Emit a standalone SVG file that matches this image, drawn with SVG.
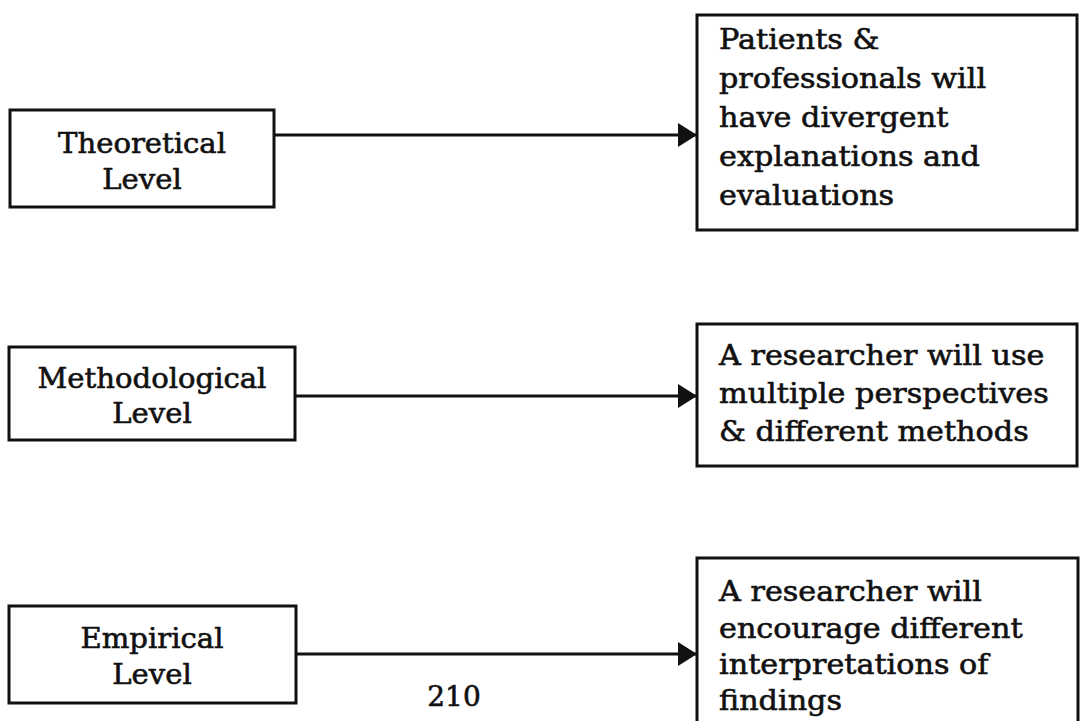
<svg xmlns="http://www.w3.org/2000/svg" width="1084" height="721" viewBox="0 0 1084 721">
<style>
.box{fill:#fff;stroke:#111;stroke-width:3}
.t{font-family:"DejaVu Serif","Liberation Serif",serif;font-size:28px;fill:#111;stroke:#111;stroke-width:0.6}
.c{text-anchor:middle}
.conn{stroke:#111;stroke-width:3;fill:none}
</style>
<defs>
<marker id="ah" markerUnits="userSpaceOnUse" markerWidth="20" markerHeight="24" refX="19" refY="12" orient="auto">
<path d="M0,0 L19,12 L0,24 z" fill="#111"/>
</marker>
</defs>
<rect width="1084" height="721" fill="#fff"/>
<g id="connectors">
<line class="conn" x1="274" y1="135" x2="697" y2="135" marker-end="url(#ah)"/>
<line class="conn" x1="295" y1="396" x2="697" y2="396" marker-end="url(#ah)"/>
<line class="conn" x1="296" y1="654" x2="697" y2="654" marker-end="url(#ah)"/>
</g>
<g id="theoretical">
<rect class="box" x="10" y="110" width="264" height="97"/>
<text class="t c" transform="translate(142,153) scale(1.04,1)">Theoretical</text>
<text class="t c" transform="translate(142,189) scale(1.04,1)">Level</text>
</g>
<g id="methodological">
<rect class="box" x="9" y="347" width="286" height="93"/>
<text class="t c" transform="translate(152,388) scale(1.04,1)">Methodological</text>
<text class="t c" transform="translate(152,423) scale(1.04,1)">Level</text>
</g>
<g id="empirical">
<rect class="box" x="9" y="606" width="287" height="97"/>
<text class="t c" transform="translate(152,648) scale(1.04,1)">Empirical</text>
<text class="t c" transform="translate(152,684) scale(1.04,1)">Level</text>
</g>
<g id="outcome-theoretical">
<rect class="box" x="697" y="15" width="380" height="215"/>
<text class="t" transform="translate(719,49) scale(1.08,1)">Patients &amp;</text>
<text class="t" transform="translate(719,88) scale(1.08,1)">professionals will</text>
<text class="t" transform="translate(719,127) scale(1.08,1)">have divergent</text>
<text class="t" transform="translate(719,166) scale(1.08,1)">explanations and</text>
<text class="t" transform="translate(719,205) scale(1.08,1)">evaluations</text>
</g>
<g id="outcome-methodological">
<rect class="box" x="697" y="324" width="380" height="142"/>
<text class="t" transform="translate(719,365) scale(1.08,1)">A researcher will use</text>
<text class="t" transform="translate(719,403) scale(1.08,1)">multiple perspectives</text>
<text class="t" transform="translate(719,441) scale(1.08,1)">&amp; different methods</text>
</g>
<g id="outcome-empirical">
<rect class="box" x="697" y="558" width="381" height="180"/>
<text class="t" transform="translate(719,601) scale(1.08,1)">A researcher will</text>
<text class="t" transform="translate(719,638) scale(1.08,1)">encourage different</text>
<text class="t" transform="translate(719,674) scale(1.08,1)">interpretations of</text>
<text class="t" transform="translate(719,710) scale(1.08,1)">findings</text>
</g>
<text class="t c" transform="translate(454,706) scale(1,1)">210</text>
</svg>
